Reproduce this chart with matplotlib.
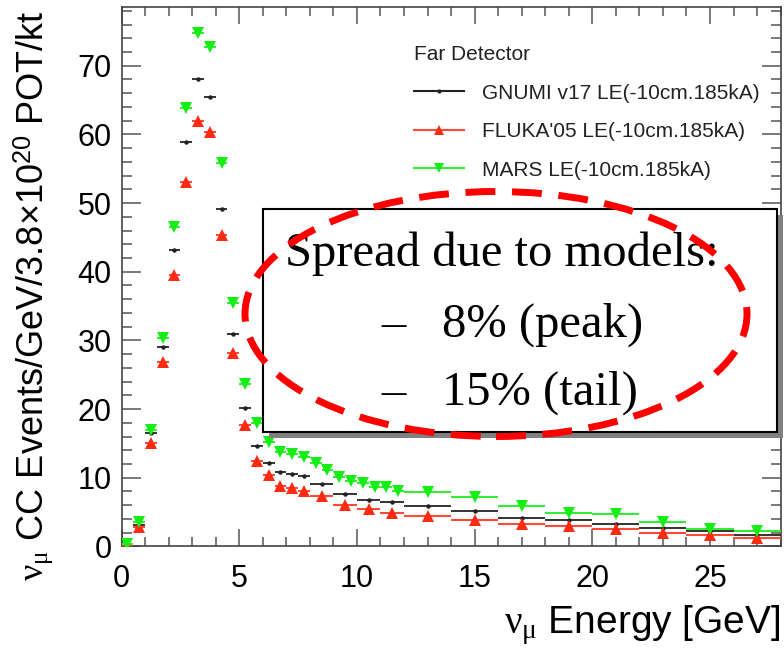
import matplotlib
matplotlib.use("Agg")
import matplotlib.pyplot as plt
import numpy as np
from matplotlib.patches import Rectangle, Ellipse
from matplotlib.lines import Line2D
from matplotlib.ticker import MultipleLocator

# ---------------- data ----------------
# MARS: 0.5 GeV bins to 12 GeV, then 2 GeV bins
mars_x = [0.25, 0.75, 1.25, 1.75, 2.25, 2.75, 3.25, 3.75, 4.25, 4.75, 5.25, 5.75,
          6.25, 6.75, 7.25, 7.75, 8.25, 8.75, 9.25, 9.75, 10.25, 10.75, 11.25, 11.75,
          13, 15, 17, 19, 21, 23, 25, 27]
mars_w = [0.5] * 24 + [2.0] * 8
mars_y = [0.3, 3.6, 16.9, 30.3, 46.5, 63.9, 74.8, 72.8, 55.8, 35.4, 23.7, 18.0,
          15.2, 13.7, 13.5, 13.0, 12.2, 11.1, 10.1, 9.5, 9.2, 8.7, 8.7, 8.1,
          7.9, 7.2, 5.9, 4.8, 4.7, 3.6, 2.6, 2.2]

# FLUKA and GNUMI: 0.5 GeV bins to 8, 1 GeV bins to 12, then 2 GeV bins
fl_x = [0.25, 0.75, 1.25, 1.75, 2.25, 2.75, 3.25, 3.75, 4.25, 4.75, 5.25, 5.75,
        6.25, 6.75, 7.25, 7.75, 8.5, 9.5, 10.5, 11.5,
        13, 15, 17, 19, 21, 23, 25, 27]
fl_w = [0.5] * 16 + [1.0] * 4 + [2.0] * 8
fluka_y = [0.0, 2.8, 15.1, 26.8, 39.5, 53.1, 62.0, 60.4, 45.4, 28.2, 17.7, 12.4,
           10.4, 8.8, 8.5, 8.1, 7.4, 6.0, 5.4, 4.9,
           4.5, 3.8, 3.3, 2.9, 2.5, 2.0, 1.7, 1.2]
gnumi_y = [0.1, 3.1, 16.5, 29.1, 43.1, 58.9, 68.1, 65.4, 49.1, 31.0, 20.1, 14.6,
           12.2, 10.8, 10.6, 10.2, 9.1, 7.7, 6.8, 6.5,
           5.9, 5.1, 4.2, 3.9, 3.2, 2.7, 2.3, 1.6]

labels = ["GNUMI v17 LE(-10cm.185kA)", "FLUKA'05 LE(-10cm.185kA)", "MARS LE(-10cm.185kA)"]
legend_title = "Far Detector"
box_lines = ["Spread due to models:", "8% (peak)", "15% (tail)"]
xticks = [0, 5, 10, 15, 20, 25]
yticks = [0, 10, 20, 30, 40, 50, 60, 70]

# ---------------- style ----------------
plt.rcParams['font.family'] = ['Liberation Sans', 'DejaVu Sans']
plt.rcParams['mathtext.fontset'] = 'custom'
plt.rcParams['mathtext.rm'] = 'Liberation Sans'
plt.rcParams['mathtext.sf'] = 'Liberation Sans'
plt.rcParams['mathtext.it'] = 'Liberation Serif'

W, H = 784, 648
fig = plt.figure(figsize=(W / 100, H / 100), dpi=100)

def fx(px):
    return px / W

def fy(py):
    return 1 - py / H

ax = fig.add_axes([fx(121.5), fy(546.4), fx(780.6) - fx(121.5), fy(6.7) - fy(546.4)])
ax.set_xlim(0, 28)
ax.set_ylim(0, 78.6)

RED = '#ff2a12'
GREEN = '#14ee14'
BLACK = '#222222'

ax.errorbar(fl_x, gnumi_y, xerr=np.array(fl_w) / 2, fmt='o', ms=2.2,
            color=BLACK, ecolor='#333333', elinewidth=1.4, capsize=0, zorder=3)
ax.errorbar(fl_x, fluka_y, xerr=np.array(fl_w) / 2, fmt='^', ms=9,
            color=RED, ecolor='#ff4a3a', elinewidth=1.5, capsize=0, mew=0, zorder=4)
ax.errorbar(mars_x, mars_y, xerr=np.array(mars_w) / 2, fmt='v', ms=9,
            color=GREEN, ecolor='#33ee33', elinewidth=1.5, capsize=0, mew=0, zorder=5)

ax.set_xticks(xticks)
ax.set_yticks(yticks)
ax.xaxis.set_minor_locator(MultipleLocator(1))
ax.yaxis.set_minor_locator(MultipleLocator(2))
ax.tick_params(which='both', direction='in', top=True, right=True, color='#555555', width=1.1)
ax.tick_params(axis='x', which='major', length=12, labelsize=22, pad=13)
ax.tick_params(axis='x', which='minor', length=6.5)
ax.tick_params(axis='y', which='major', length=14, labelsize=22, pad=7)
ax.tick_params(axis='y', which='minor', length=7)
for s in ax.spines.values():
    s.set_color('#444444')
    s.set_linewidth(1.2)

# axis titles (ROOT style, aligned to axis ends)
fig.text(fx(780), fy(633), r'$\nu_{\mu}$ Energy [GeV]', fontsize=28,
         ha='right', va='baseline')
fig.text(fx(43), fy(10), r'$\nu_{\mu}$ CC Events/GeV/3.8×10$^{\mathsf{20}}$ POT/kt',
         fontsize=26, rotation=90, rotation_mode='anchor', ha='right', va='baseline')

# legend
handles = [
    Line2D([], [], color=BLACK, lw=1.5, marker='o', ms=2),
    Line2D([], [], color='#ff4a3a', lw=1.5, marker='^', ms=7, mfc=RED, mew=0),
    Line2D([], [], color='#33ee33', lw=1.5, marker='v', ms=7, mfc=GREEN, mew=0),
]
leg = ax.legend(handles, labels, title=legend_title, loc='upper left',
                bbox_to_anchor=(fx(414), fy(45)), bbox_transform=fig.transFigure,
                frameon=False, fontsize=15, title_fontsize=15, alignment='left',
                handlelength=2.4, handletextpad=0.85, labelspacing=0.94,
                borderpad=0, borderaxespad=0)
for t in leg.get_texts():
    t.set_color('#222222')
leg.get_title().set_color('#222222')

# text box with shadow
bx0, by0, bx1, by1 = 263, 209, 777, 432
shadow = Rectangle((fx(bx0 + 6), fy(by1 + 6)), fx(bx1) - fx(bx0), fy(by0) - fy(by1),
                   transform=fig.transFigure, facecolor='#808080', edgecolor='none', zorder=10)
box = Rectangle((fx(bx0), fy(by1)), fx(bx1) - fx(bx0), fy(by0) - fy(by1),
                transform=fig.transFigure, facecolor='white', edgecolor='black', lw=1.5, zorder=11)
fig.add_artist(shadow)
fig.add_artist(box)

serif = ['Liberation Serif', 'DejaVu Serif']
fig.text(fx(285), fy(266), box_lines[0], fontsize=35, family=serif, ha='left', va='baseline', zorder=12)
fig.text(fx(381), fy(337), '–', fontsize=35, family=serif, ha='left', va='baseline', zorder=12)
fig.text(fx(442), fy(337), box_lines[1], fontsize=35, family=serif, ha='left', va='baseline', zorder=12)
fig.text(fx(381), fy(405), '–', fontsize=35, family=serif, ha='left', va='baseline', zorder=12)
fig.text(fx(442), fy(405), box_lines[2], fontsize=35, family=serif, ha='left', va='baseline', zorder=12)

ell = Ellipse((fx(496), fy(314)), fx(502), 245 / H, transform=fig.transFigure,
              facecolor='none', edgecolor='#ff0000', lw=5, linestyle=(0, (4.3, 2.4)), zorder=13)
fig.add_artist(ell)

fig.savefig('out.png', dpi=100)
